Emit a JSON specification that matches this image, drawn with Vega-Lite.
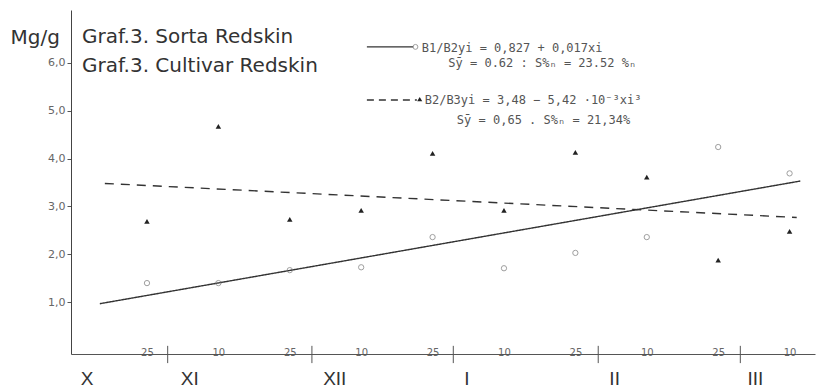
{
  "$schema": "https://vega.github.io/schema/vega-lite/v6.json",
  "width": 744,
  "height": 344,
  "autosize": {"type": "none"},
  "padding": {"left": 71, "top": 10, "right": 2, "bottom": 35},
  "background": "white",
  "config": {"view": {"stroke": null}, "font": "DejaVu Sans"},
  "datasets": {
    "points": [
      {"t": 1, "series": "B1/B2", "value": 1.40},
      {"t": 2, "series": "B1/B2", "value": 1.40},
      {"t": 3, "series": "B1/B2", "value": 1.67},
      {"t": 4, "series": "B1/B2", "value": 1.73},
      {"t": 5, "series": "B1/B2", "value": 2.36},
      {"t": 6, "series": "B1/B2", "value": 1.71},
      {"t": 7, "series": "B1/B2", "value": 2.03},
      {"t": 8, "series": "B1/B2", "value": 2.36},
      {"t": 9, "series": "B1/B2", "value": 4.24},
      {"t": 10, "series": "B1/B2", "value": 3.69},
      {"t": 1, "series": "B2/B3", "value": 2.69},
      {"t": 2, "series": "B2/B3", "value": 4.67},
      {"t": 3, "series": "B2/B3", "value": 2.73},
      {"t": 4, "series": "B2/B3", "value": 2.92},
      {"t": 5, "series": "B2/B3", "value": 4.11},
      {"t": 6, "series": "B2/B3", "value": 2.92},
      {"t": 7, "series": "B2/B3", "value": 4.13},
      {"t": 8, "series": "B2/B3", "value": 3.61},
      {"t": 9, "series": "B2/B3", "value": 1.88},
      {"t": 10, "series": "B2/B3", "value": 2.48}
    ],
    "fits": [
      {"t": 0.34, "series": "B1/B2", "value": 0.97},
      {"t": 10.15, "series": "B1/B2", "value": 3.53},
      {"t": 0.41, "series": "B2/B3", "value": 3.48},
      {"t": 10.1, "series": "B2/B3", "value": 2.77}
    ],
    "months": [
      {"t": 0.16, "month": "X"},
      {"t": 1.6, "month": "XI"},
      {"t": 3.63, "month": "XII"},
      {"t": 5.48, "month": "I"},
      {"t": 7.55, "month": "II"},
      {"t": 9.52, "month": "III"}
    ],
    "bounds": [
      {"t": 1.29}, {"t": 3.31}, {"t": 5.29}, {"t": 7.32}, {"t": 9.31}
    ],
    "one": [{}]
  },
  "layer": [
    {
      "data": {"name": "fits"},
      "mark": {"type": "line", "color": "#333", "strokeWidth": 1.4},
      "encoding": {
        "x": {
          "field": "t", "type": "quantitative",
          "scale": {"domain": [-0.064, 10.356], "nice": false, "zero": false},
          "axis": {
            "values": [1, 2, 3, 4, 5, 6, 7, 8, 9, 10],
            "labelExpr": "datum.value % 2 == 1 ? '25' : '10'",
            "ticks": false, "grid": false, "title": null,
            "domainColor": "#555", "labelColor": "#666", "labelFontSize": 10,
            "labelBaseline": "middle", "labelPadding": -2, "labelFont": "DejaVu Sans"
          }
        },
        "y": {
          "field": "value", "type": "quantitative",
          "scale": {"domain": [-0.08, 7.1], "nice": false, "zero": false},
          "axis": {
            "values": [1, 2, 3, 4, 5, 6],
            "labelExpr": "replace(format(datum.value, '.1f'), '.', ',')",
            "tickSize": 4, "tickColor": "#555", "domainColor": "#444",
            "labelColor": "#666", "labelFontSize": 11, "labelPadding": 2, "grid": false,
            "title": "Mg/g", "titleAngle": 0, "titleX": -61, "titleY": 33,
            "titleAlign": "left", "titleBaseline": "alphabetic", "titleFontSize": 20,
            "titleFontWeight": "normal", "titleColor": "#333", "titleFont": "DejaVu Sans"
          }
        },
        "strokeDash": {
          "field": "series", "type": "nominal",
          "scale": {"domain": ["B1/B2", "B2/B3"], "range": [[1, 0], [9, 7]]},
          "legend": null
        }
      }
    },
    {
      "data": {"name": "points"},
      "transform": [{"filter": "datum.series == 'B1/B2'"}],
      "mark": {"type": "point", "shape": "circle", "filled": false, "stroke": "#777", "strokeWidth": 1, "size": 28},
      "encoding": {
        "x": {"field": "t", "type": "quantitative"},
        "y": {"field": "value", "type": "quantitative"}
      }
    },
    {
      "data": {"name": "points"},
      "transform": [{"filter": "datum.series == 'B2/B3'"}],
      "mark": {"type": "point", "shape": "triangle-up", "filled": true, "fill": "#222", "opacity": 1, "size": 30},
      "encoding": {
        "x": {"field": "t", "type": "quantitative"},
        "y": {"field": "value", "type": "quantitative"}
      }
    },
    {
      "data": {"name": "bounds"},
      "mark": {"type": "rule", "color": "#555", "strokeWidth": 1},
      "encoding": {
        "x": {"field": "t", "type": "quantitative"},
        "y": {"datum": 0.09},
        "y2": {"datum": -0.27}
      }
    },
    {
      "data": {"name": "months"},
      "mark": {"type": "text", "align": "center", "baseline": "alphabetic", "font": "Liberation Sans", "fontSize": 19, "color": "#333"},
      "encoding": {
        "x": {"field": "t", "type": "quantitative"},
        "y": {"datum": -0.72},
        "text": {"field": "month"}
      }
    },
    {
      "data": {"name": "one"},
      "mark": {"type": "text", "align": "left", "baseline": "alphabetic", "font": "DejaVu Sans", "fontSize": 20, "color": "#333"},
      "encoding": {"x": {"datum": 0.09}, "y": {"datum": 6.41}, "text": {"value": "Graf.3. Sorta Redskin"}}
    },
    {
      "data": {"name": "one"},
      "mark": {"type": "text", "align": "left", "baseline": "alphabetic", "font": "DejaVu Sans", "fontSize": 20, "color": "#333"},
      "encoding": {"x": {"datum": 0.09}, "y": {"datum": 5.81}, "text": {"value": "Graf.3. Cultivar Redskin"}}
    },
    {
      "data": {"name": "one"},
      "mark": {"type": "rule", "color": "#333", "strokeWidth": 1.4},
      "encoding": {"x": {"datum": 4.08}, "x2": {"datum": 4.73}, "y": {"datum": 6.33}}
    },
    {
      "data": {"name": "one"},
      "mark": {"type": "rule", "color": "#333", "strokeWidth": 1.4, "strokeDash": [7, 5]},
      "encoding": {"x": {"datum": 4.08}, "x2": {"datum": 4.78}, "y": {"datum": 5.22}}
    },
    {
      "data": {"name": "one"},
      "mark": {"type": "point", "shape": "circle", "filled": false, "stroke": "#777", "strokeWidth": 1, "size": 24},
      "encoding": {"x": {"datum": 4.76}, "y": {"datum": 6.33}}
    },
    {
      "data": {"name": "one"},
      "mark": {"type": "point", "shape": "triangle-up", "filled": true, "fill": "#222", "opacity": 1, "size": 26},
      "encoding": {"x": {"datum": 4.82}, "y": {"datum": 5.24}}
    },
    {
      "data": {"name": "one"},
      "mark": {"type": "text", "align": "left", "baseline": "alphabetic", "font": "DejaVu Sans Mono", "fontSize": 12, "color": "#555"},
      "encoding": {"x": {"datum": 4.85}, "y": {"datum": 6.22}, "text": {"value": "B1/B2yi = 0,827 + 0,017xi"}}
    },
    {
      "data": {"name": "one"},
      "mark": {"type": "text", "align": "left", "baseline": "alphabetic", "font": "DejaVu Sans Mono", "fontSize": 12, "color": "#555"},
      "encoding": {"x": {"datum": 5.22}, "y": {"datum": 5.91}, "text": {"value": "Sȳ  = 0.62 : S%ₙ   = 23.52 %ₙ"}}
    },
    {
      "data": {"name": "one"},
      "mark": {"type": "text", "align": "left", "baseline": "alphabetic", "font": "DejaVu Sans Mono", "fontSize": 12, "color": "#555"},
      "encoding": {"x": {"datum": 4.89}, "y": {"datum": 5.14}, "text": {"value": "B2/B3yi = 3,48 − 5,42 ·10⁻³xi³"}}
    },
    {
      "data": {"name": "one"},
      "mark": {"type": "text", "align": "left", "baseline": "alphabetic", "font": "DejaVu Sans Mono", "fontSize": 12, "color": "#555"},
      "encoding": {"x": {"datum": 5.34}, "y": {"datum": 4.72}, "text": {"value": "Sȳ = 0,65 . S%ₙ = 21,34%"}}
    }
  ]
}
